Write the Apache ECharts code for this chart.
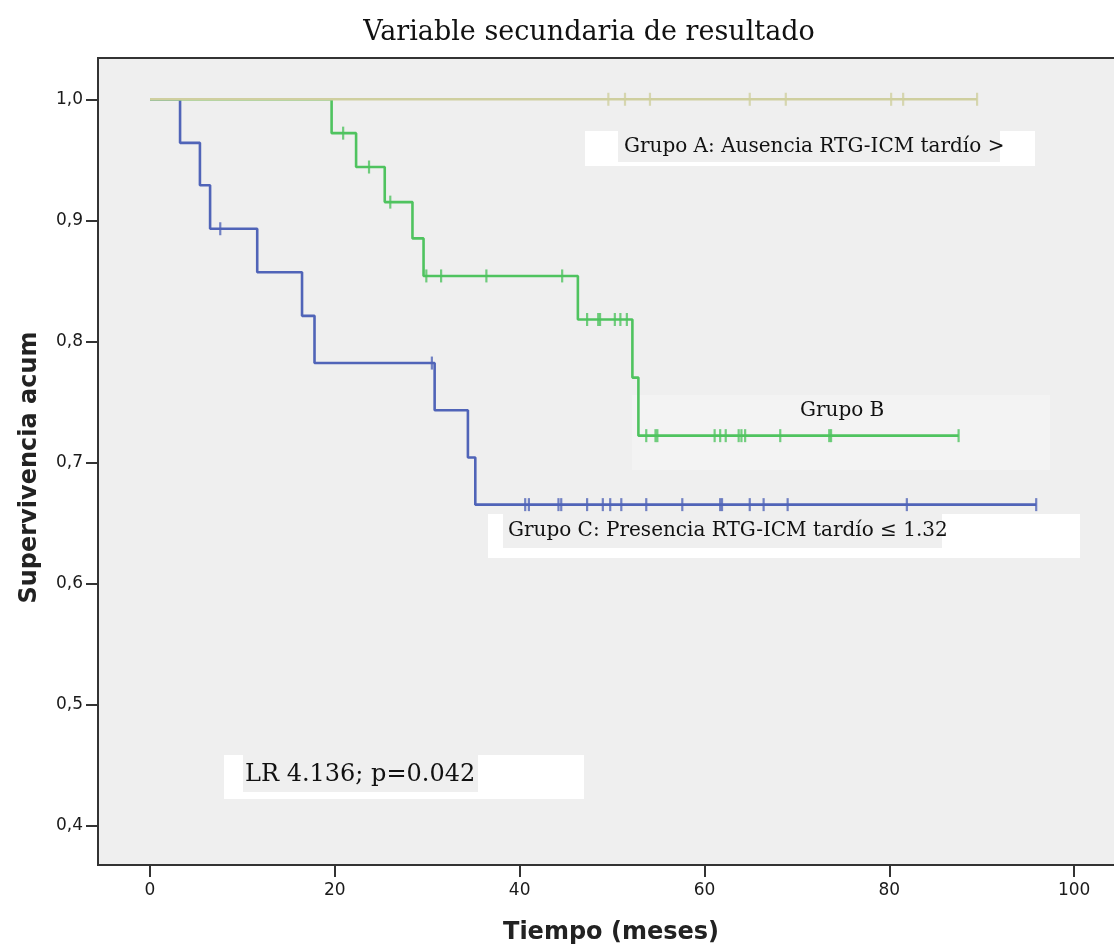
<!DOCTYPE html>
<html>
<head>
<meta charset="utf-8">
<script src="https://cdn.jsdelivr.net/npm/echarts@6/dist/echarts.min.js"></script>
<style>
html,body{margin:0;padding:0;background:#fff;}
#chart{width:1114px;height:947px;}
</style>
</head>
<body>
<div id="chart"></div>
<script>
// ---- Data ----
const titleText = 'Variable secundaria de resultado';
const xAxisName = 'Tiempo (meses)';
const yAxisName = 'Supervivencia acum';
const xTicks = [0, 20, 40, 60, 80, 100];
const yTicks = [0.4, 0.5, 0.6, 0.7, 0.8, 0.9, 1.0];

// Grupo A
const groupA_times = [0, 89.5];
const groupA_surv  = [1.0, 1.0];
const groupA_censorTimes = [49.6, 51.4, 54.1, 64.9, 68.8, 80.2, 81.5, 89.5];
const groupA_censorSurv  = [1, 1, 1, 1, 1, 1, 1, 1];

// Grupo B
const groupB_times = [0, 19.65, 22.3, 25.4, 28.4, 29.6, 46.3, 52.2, 52.85, 87.5];
const groupB_surv  = [1.0, 0.972, 0.944, 0.915, 0.885, 0.854, 0.818, 0.770, 0.722, 0.722];
const groupB_censorTimes = [20.9, 23.7, 26.0, 29.9, 31.5, 36.4, 44.6, 47.3, 48.5, 48.7, 50.3, 50.9, 51.6,
  53.7, 54.7, 54.9, 61.1, 61.7, 62.3, 63.7, 64.0, 64.4, 68.2, 73.5, 73.7, 87.5];
const groupB_censorSurv  = [0.972, 0.944, 0.915, 0.854, 0.854, 0.854, 0.854, 0.818, 0.818, 0.818, 0.818, 0.818, 0.818,
  0.722, 0.722, 0.722, 0.722, 0.722, 0.722, 0.722, 0.722, 0.722, 0.722, 0.722, 0.722, 0.722];

// Grupo C
const groupC_times = [0, 3.25, 5.4, 6.5, 11.6, 16.45, 17.8, 30.8, 34.4, 35.2, 95.9];
const groupC_surv  = [1.0, 0.964, 0.929, 0.893, 0.857, 0.821, 0.782, 0.743, 0.704, 0.665, 0.665];
const groupC_censorTimes = [7.6, 30.5, 40.6, 41.0, 44.2, 44.5, 47.3, 49.0, 49.8, 51.0, 53.7, 57.6, 61.7, 61.9,
  64.9, 66.4, 69.0, 81.9, 95.9];
const groupC_censorSurv  = [0.893, 0.782, 0.665, 0.665, 0.665, 0.665, 0.665, 0.665, 0.665, 0.665, 0.665, 0.665,
  0.665, 0.665, 0.665, 0.665, 0.665, 0.665, 0.665];

const labelA = 'Grupo A: Ausencia RTG-ICM tardío >';
const labelB = 'Grupo B';
const labelC = 'Grupo C: Presencia RTG-ICM tardío ≤ 1.32';
const labelLR = 'LR 4.136; p=0.042';

// ---- Build ----
function pairs(t, s) { return t.map((v, i) => [v, s[i]]); }

const colA = '#cfcf9f';
const colB = '#4fc35f';
const colC = '#5064b8';

function lineSeries(name, t, s, color, z) {
  return {
    name: name, type: 'line', step: 'end', data: pairs(t, s),
    symbol: 'none', lineStyle: { color: color, width: 2.6 }, z: z, silent: true
  };
}
function censorSeries(name, t, s, color, z) {
  return {
    name: name, type: 'scatter', data: pairs(t, s),
    symbol: 'rect', symbolSize: [2.2, 13], itemStyle: { color: color }, z: z, silent: true
  };
}

const serif = 'DejaVu Serif';
const sans = 'DejaVu Sans';

function textBox(white, gray, tx, ty, text, size) {
  const els = [];
  if (white) els.push({ type: 'rect', shape: white, style: { fill: '#ffffff' }, z: 10 });
  if (gray) els.push({ type: 'rect', shape: gray, style: { fill: '#efefef' }, z: 11 });
  els.push({ type: 'text', x: tx, y: ty, style: { text: text, font: size + 'px "' + serif + '"', fill: '#111', verticalAlign: 'middle' }, z: 12 });
  return els;
}

const chart = echarts.init(document.getElementById('chart'));
chart.setOption({
  animation: false,
  backgroundColor: '#ffffff',
  title: {
    text: titleText, left: 584, top: 14, textAlign: 'center',
    textStyle: { fontFamily: serif, fontWeight: 'normal', fontSize: 27, color: '#111' }
  },
  grid: {
    left: 98, top: 58, right: -10, bottom: 82,
    show: true, backgroundColor: '#efefef', borderColor: '#333', borderWidth: 2,
    containLabel: false, outerBoundsMode: 'none'
  },
  xAxis: {
    type: 'value', min: -5.63, max: 105.4,
    name: xAxisName, nameLocation: 'middle', nameGap: 56,
    nameTextStyle: { fontFamily: sans, fontWeight: 'bold', fontSize: 24, color: '#222' },
    axisLine: { show: true, onZero: false, lineStyle: { color: '#333', width: 2 } },
    axisTick: { show: true, length: 12, lineStyle: { color: '#333', width: 2 }, customValues: xTicks },
    axisLabel: { show: true, margin: 17, fontFamily: sans, fontSize: 17, color: '#1a1a1a', customValues: xTicks },
    splitLine: { show: false }
  },
  yAxis: {
    type: 'value', min: 0.3672, max: 1.0341,
    name: yAxisName, nameLocation: 'middle', nameGap: 56, nameRotate: 90,
    nameTextStyle: { fontFamily: sans, fontWeight: 'bold', fontSize: 24, color: '#222', padding: [0, 12, 0, 0] },
    axisLine: { show: true, onZero: false, lineStyle: { color: '#333', width: 2 } },
    axisTick: { show: true, length: 12, lineStyle: { color: '#333', width: 2 }, customValues: yTicks },
    axisLabel: { show: true, margin: 15, fontFamily: sans, fontSize: 17, color: '#1a1a1a', customValues: yTicks,
      formatter: v => v.toFixed(1).replace('.', ',') },
    splitLine: { show: false }
  },
  series: [
    lineSeries('Grupo C', groupC_times, groupC_surv, colC, 3),
    censorSeries('Grupo C censor', groupC_censorTimes, groupC_censorSurv, colC, 4),
    lineSeries('Grupo B', groupB_times, groupB_surv, colB, 5),
    censorSeries('Grupo B censor', groupB_censorTimes, groupB_censorSurv, colB, 6),
    lineSeries('Grupo A', groupA_times, groupA_surv, colA, 7),
    censorSeries('Grupo A censor', groupA_censorTimes, groupA_censorSurv, colA, 8)
  ],
  graphic: [
    { type: 'rect', shape: { x: 632, y: 395, width: 418, height: 75 }, style: { fill: '#f3f3f3' }, z: 1 },
    ...textBox({ x: 585, y: 131, width: 450, height: 35 }, { x: 618, y: 131, width: 382, height: 31 }, 624, 147, labelA, 20),
    ...textBox(null, null, 800, 411, labelB, 20),
    ...textBox({ x: 488, y: 514, width: 592, height: 44 }, { x: 503, y: 514, width: 439, height: 34 }, 508, 531, labelC, 20),
    ...textBox({ x: 224, y: 755, width: 360, height: 44 }, { x: 243, y: 755, width: 235, height: 37 }, 245, 775, labelLR, 24)
  ]
});
</script>
</body>
</html>
